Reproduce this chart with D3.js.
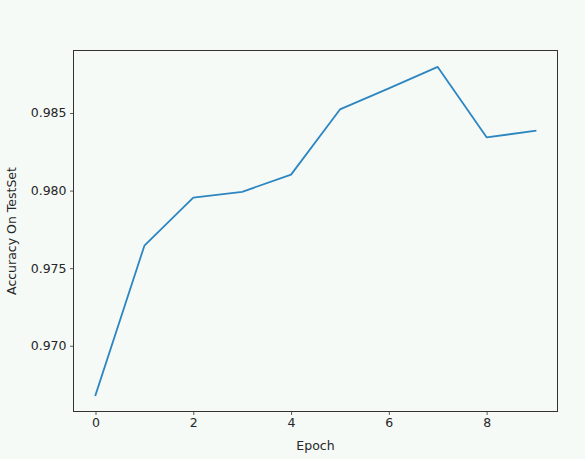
<!DOCTYPE html>
<html><head><meta charset="utf-8">
<script src="https://cdn.jsdelivr.net/npm/d3@7"></script>
<style>body{margin:0;background:#f5faf7;}svg{display:block;}</style>
</head><body>
<script>
const epochs = [0,1,2,3,4,5,6,7,8,9];
const accuracy = [0.96682,0.97645,0.97955,0.97992,0.98103,0.98523,0.98659,0.98797,0.98343,0.98385];
const xTicks = [0,2,4,6,8];
const yTicks = [0.970,0.975,0.980,0.985];
const xLabel = "Epoch";
const yLabel = "Accuracy On TestSet";

const W=585,H=459;
const L=73.5,R=557.5,T=50.5,B=411.5;
const svg=d3.select("body").append("svg").attr("width",W).attr("height",H);
svg.append("rect").attr("width",W).attr("height",H).attr("fill","#f5faf7");

const xmin=d3.min(epochs),xmax=d3.max(epochs),xm=(xmax-xmin)*0.05;
const ymin=d3.min(accuracy),ymax=d3.max(accuracy),ym=(ymax-ymin)*0.05;
const x=d3.scaleLinear().domain([xmin-xm,xmax+xm]).range([L,R]);
const y=d3.scaleLinear().domain([ymin-ym,ymax+ym]).range([B,T]);

const font="DejaVu Sans";
const xAxis=svg.append("g").attr("transform",`translate(0,${B})`)
  .call(d3.axisBottom(x).tickValues(xTicks).tickFormat(d3.format("d")).tickSizeOuter(0).tickSizeInner(3.5).tickPadding(3.5));
const yAxis=svg.append("g").attr("transform",`translate(${L},0)`)
  .call(d3.axisLeft(y).tickValues(yTicks).tickFormat(d3.format(".3f")).tickSizeOuter(0).tickSizeInner(3.5).tickPadding(3.5));
[xAxis,yAxis].forEach(g=>{
  g.select(".domain").remove();
  g.selectAll("line").attr("stroke","#333").attr("stroke-width",0.8);
  g.selectAll("text").attr("font-family",font).attr("font-size","12.5px").attr("fill","#262626");
});

svg.append("path").datum(epochs.map((e,i)=>[e,accuracy[i]]))
  .attr("fill","none").attr("stroke","#2e86c0").attr("stroke-width",1.8)
  .attr("stroke-linejoin","round").attr("stroke-linecap","square")
  .attr("d",d3.line().x(d=>x(d[0])).y(d=>y(d[1])));

svg.append("rect").attr("x",L).attr("y",T).attr("width",R-L).attr("height",B-T)
  .attr("fill","none").attr("stroke","#333").attr("stroke-width",1);

svg.append("text").attr("x",(L+R)/2).attr("y",450).attr("text-anchor","middle")
  .attr("font-family",font).attr("font-size","12.5px").attr("fill","#262626").text(xLabel);
svg.append("text").attr("transform",`translate(16,${(T+B)/2}) rotate(-90)`).attr("text-anchor","middle")
  .attr("font-family",font).attr("font-size","12.5px").attr("fill","#262626").text(yLabel);
</script>
</body></html>
